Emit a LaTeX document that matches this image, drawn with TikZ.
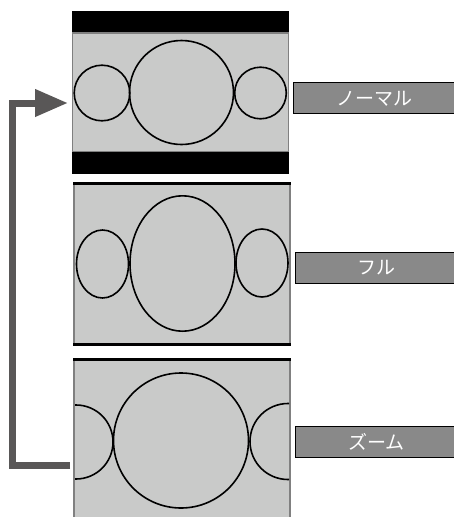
\documentclass[tikz,border=0pt]{standalone}
\usepackage{fontspec}
\newfontfamily\jpfont{Noto Sans CJK JP}
\usetikzlibrary{arrows.meta}
\definecolor{screen}{HTML}{C9CAC9}
\definecolor{frame}{HTML}{808080}
\definecolor{lab}{HTML}{898989}
\definecolor{arr}{HTML}{595757}
\tikzset{
  screenbox/.style={fill=screen, draw=frame, line width=1.6pt},
  outline/.style={draw=black, line width=1.6pt},
  labelbox/.style={fill=lab, draw=black, line width=1.2pt, minimum width=162pt, minimum height=31pt, inner sep=0pt,
     text=white, font=\jpfont\fontsize{19}{19}\selectfont},
  loopline/.style={draw=arr, line width=7pt, -{Triangle[length=33pt,width=26pt]}}
}
\begin{document}
\begin{tikzpicture}[x=1pt,y=-1pt]
\useasboundingbox (0,0) rectangle (453,517);
% panel 1 (normal)
\fill[black] (72,11) rectangle (289,174);
\draw[screenbox] (72.5,33) rectangle (288.5,151.5);
\draw[outline] (102,93) circle (27.8);
\draw[outline] (181.5,92.5) circle (52);
\draw[outline] (260.5,93) circle (25.8);
% panel 2 (full)
\draw[screenbox] (74,184) rectangle (290,344);
\draw[black, line width=2.6pt] (73,183.5) -- (291,183.5);
\draw[black, line width=2.6pt] (73,344.5) -- (291,344.5);
\draw[outline] (102.5,264) ellipse (26 and 34);
\draw[outline] (182.5,263.5) ellipse (52.5 and 67.7);
\draw[outline] (262,263) ellipse (26 and 34);
% panel 3 (zoom)
\draw[screenbox] (74,360) rectangle (290,520);
\draw[black, line width=2.6pt] (73,359.5) -- (291,359.5);
\begin{scope}
\clip (75,361) rectangle (289,520);
\draw[outline] (76,442) circle (37);
\draw[outline] (181,440.5) circle (67.5);
\draw[outline] (288,441.5) circle (38);
\end{scope}
% labels
\node[labelbox, anchor=west] (n) at (293,98.3) {ノーマル};
\node[labelbox, anchor=west] (f) at (295,268) {フル};
\node[labelbox, anchor=west] (z) at (295,441.8) {ズーム};
% loop arrow
\coordinate (s) at (70,465);
\coordinate (e) at (68,103);
\draw[loopline] (s) -- (12,465) -- (12,103) -- (e);
\end{tikzpicture}
\end{document}
